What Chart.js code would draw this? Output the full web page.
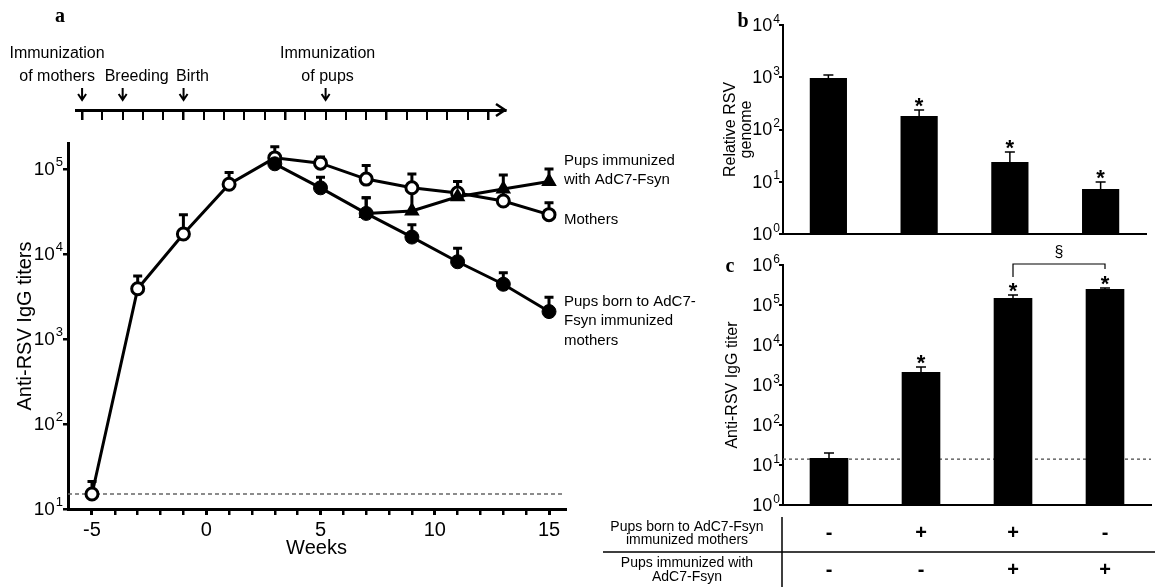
<!DOCTYPE html>
<html>
<head>
<meta charset="utf-8">
<script src="https://cdn.jsdelivr.net/npm/chart.js@4.4.1/dist/chart.umd.min.js"></script>
<style>
  body { margin: 0; background: #fff; width: 1155px; height: 587px; overflow: hidden; position: relative; }
  canvas { position: absolute; }
</style>
</head>
<body>
<canvas id="timeline" width="580" height="130" style="left:0px;top:0px"></canvas>
<canvas id="chartA" width="710" height="457" style="left:0px;top:130px"></canvas>
<canvas id="chartB" width="455" height="245" style="left:700px;top:0px"></canvas>
<canvas id="chartC" width="565" height="352" style="left:590px;top:235px"></canvas>
<script>
// ---- panel a: timeline of events ----
const timelineWeeks = [-5, -3, 0, 7];
const timelineLabels = [['Immunization', 'of mothers'], ['Breeding'], ['Birth'], ['Immunization', 'of pups']];
const weekTicks = [-5, -4, -3, -2, -1, 0, 1, 2, 3, 4, 5, 6, 7, 8, 9, 10, 11, 12, 13, 14, 15];

// ---- panel a: anti-RSV IgG titers over time (mean and upper error) ----
const weeksMothers = [-5, -3, -1, 1, 3, 5, 7, 9, 11, 13, 15];
const titerMothers = [15, 3900, 17200, 66000, 135000, 117000, 76000, 60000, 52000, 42000, 29000];
const titerMothersErr = [21, 5500, 29000, 91000, 182000, 138000, 110000, 87000, 71000, 56000, 40000];

const weeksPupsBorn = [3, 5, 7, 9, 11, 13, 15];
const titerPupsBorn = [115000, 60000, 30000, 15800, 8100, 4400, 2100];
const titerPupsBornErr = [140000, 80000, 46000, 22000, 11700, 6000, 3100];

const weeksPupsImm = [7, 9, 11, 13, 15];
const titerPupsImm = [30000, 32000, 47000, 58000, 71000];
const titerPupsImmErr = [46000, 60000, 71000, 85000, 100000];

const titerTicksA = [10, 100, 1000, 10000, 100000];
const detectionLimitA = 15;

// ---- panels b and c: four groups ----
const groupKeys = ['none', 'maternal', 'maternal + pup', 'pup'];
const rsvGenome = [970, 181, 24, 7.3];
const rsvGenomeErr = [1100, 235, 37, 9.9];
const genomeStars = [false, true, true, true];
const genomeTicks = [1, 10, 100, 1000, 10000];

const igGTiter = [15, 2100, 150000, 250000];
const igGTiterErr = [20, 2800, 178000, 266000];
const titerStars = [false, true, true, true];
const titerTicksC = [1, 10, 100, 1000, 10000, 100000, 1000000];
const detectionLimitC = 14;
const sigPair = [2, 3];

const bornToImmunized = ['-', '+', '+', '-'];
const pupsImmunized = ['-', '-', '+', '+'];
const tableRowLabels = [['Pups born to AdC7-Fsyn', 'immunized mothers'], ['Pups immunized with', 'AdC7-Fsyn']];

const FONT = '"Liberation Sans", Arial, Helvetica, sans-serif';
const SERIF = '"Liberation Serif", "Times New Roman", serif';

function baseOptions() {
    return {
        responsive: false,
        animation: false,
        devicePixelRatio: 1,
        plugins: { legend: { display: false }, tooltip: { enabled: false } }
    };
}

// 10 with a superscript exponent, right aligned against the y axis
function drawPowerLabels(chart, gap, big, small) {
    const scale = chart.scales.y;
    const ctx = chart.ctx;
    ctx.save();
    ctx.fillStyle = '#000';
    ctx.textBaseline = 'middle';
    ctx.textAlign = 'left';
    scale.ticks.forEach(t => {
        const exp = String(Math.round(Math.log10(t.value)));
        const y = scale.getPixelForValue(t.value);
        ctx.font = small + 'px ' + FONT;
        const ew = ctx.measureText(exp).width;
        ctx.font = big + 'px ' + FONT;
        const bw = ctx.measureText('10').width;
        const xr = scale.right - gap;
        ctx.fillText('10', xr - ew - bw, y + 1);
        ctx.font = small + 'px ' + FONT;
        ctx.fillText(exp, xr - ew + 1, y - big * 0.32);
    });
    ctx.restore();
}

function drawErrorBars(chart, capHalf, width) {
    const ctx = chart.ctx;
    const yScale = chart.scales.y;
    ctx.save();
    ctx.strokeStyle = '#000';
    ctx.lineWidth = width;
    chart.data.datasets.forEach((ds, i) => {
        if (!ds.errUp) return;
        chart.getDatasetMeta(i).data.forEach((el, j) => {
            const yTop = yScale.getPixelForValue(ds.errUp[j]);
            ctx.beginPath();
            ctx.moveTo(el.x, el.y);
            ctx.lineTo(el.x, yTop);
            ctx.moveTo(el.x - capHalf, yTop);
            ctx.lineTo(el.x + capHalf, yTop);
            ctx.stroke();
        });
    });
    ctx.restore();
}

function drawStars(chart, stars, errs) {
    const ctx = chart.ctx;
    const yScale = chart.scales.y;
    const meta = chart.getDatasetMeta(0);
    ctx.save();
    ctx.fillStyle = '#000';
    ctx.font = 'bold 22px ' + FONT;
    ctx.textAlign = 'center';
    ctx.textBaseline = 'alphabetic';
    stars.forEach((s, j) => {
        if (!s) return;
        ctx.fillText('*', meta.data[j].x, yScale.getPixelForValue(errs[j]) + 3);
    });
    ctx.restore();
}

function drawLimit(chart, value, dash) {
    const ctx = chart.ctx;
    const y = chart.scales.y.getPixelForValue(value);
    const area = chart.chartArea;
    ctx.save();
    ctx.strokeStyle = '#666';
    ctx.lineWidth = 1.5;
    ctx.setLineDash(dash);
    ctx.beginPath();
    ctx.moveTo(area.left, y);
    ctx.lineTo(area.right, y);
    ctx.stroke();
    ctx.restore();
}

function panelLetter(ctx, letter, x, y) {
    ctx.save();
    ctx.fillStyle = '#000';
    ctx.font = 'bold 20px ' + SERIF;
    ctx.textAlign = 'center';
    ctx.textBaseline = 'middle';
    ctx.fillText(letter, x, y);
    ctx.restore();
}

// ---------------- timeline ----------------
const timelineStyle = { dx: [-25, 14, 9, 2], lastLineY: 77, lineGap: 23, arrowTop: 88, arrowBottom: 100 };

new Chart(document.getElementById('timeline'), {
    type: 'scatter',
    data: { datasets: [{ data: [] }] },
    options: Object.assign(baseOptions(), {
        layout: { padding: { left: 76, right: 75, top: 0, bottom: 0 } },
        scales: {
            x: {
                type: 'linear', min: -5.3, max: 15.84,
                afterBuildTicks: s => { s.ticks = weekTicks.map(v => ({ value: v })); },
                afterFit: s => { s.height = 20; },
                ticks: { display: false },
                grid: {
                    display: true, drawOnChartArea: false, drawTicks: true, tickLength: 10, color: '#000',
                    lineWidth: c => (c.tick && c.tick.value % 5 === 0) ? 2.5 : 2
                },
                border: { display: true, color: '#000', width: 3 }
            },
            y: { display: false, min: 0, max: 1 }
        }
    }),
    plugins: [{
        id: 'timelineMarks',
        afterDraw(chart) {
            const ctx = chart.ctx;
            const xs = chart.scales.x;
            const area = chart.chartArea;
            ctx.save();
            ctx.strokeStyle = '#000';
            ctx.fillStyle = '#000';
            // arrow head at the end of the time axis
            ctx.lineWidth = 2.5;
            ctx.beginPath();
            ctx.moveTo(area.right - 9, area.bottom - 6);
            ctx.lineTo(area.right, area.bottom);
            ctx.lineTo(area.right - 9, area.bottom + 6);
            ctx.stroke();
            ctx.font = '16px ' + FONT;
            ctx.textAlign = 'center';
            ctx.textBaseline = 'middle';
            timelineWeeks.forEach((w, i) => {
                const x = xs.getPixelForValue(w);
                const lines = timelineLabels[i];
                lines.forEach((t, k) => {
                    const y = timelineStyle.lastLineY - (lines.length - 1 - k) * timelineStyle.lineGap;
                    ctx.fillText(t, x + timelineStyle.dx[i], y);
                });
                ctx.lineWidth = 2;
                ctx.beginPath();
                ctx.moveTo(x, timelineStyle.arrowTop);
                ctx.lineTo(x, timelineStyle.arrowBottom);
                ctx.moveTo(x - 4, timelineStyle.arrowBottom - 6);
                ctx.lineTo(x, timelineStyle.arrowBottom);
                ctx.lineTo(x + 4, timelineStyle.arrowBottom - 6);
                ctx.stroke();
            });
            ctx.restore();
            panelLetter(ctx, 'a', 60, 17);
        }
    }]
});

// ---------------- panel a: titers ----------------
const toPoints = (xs, ys) => xs.map((x, i) => ({ x: x, y: ys[i] }));
const endLabelStyle = { dx: 15, lineGap: 19.5, dy: [-21, -10, 5] };

new Chart(document.getElementById('chartA'), {
    type: 'line',
    data: {
        datasets: [
            {
                data: toPoints(weeksPupsImm, titerPupsImm), errUp: titerPupsImmErr,
                endLabel: ['Pups immunized', 'with AdC7-Fsyn'],
                borderColor: '#000', borderWidth: 3, pointStyle: 'triangle', pointRadius: 7,
                pointBackgroundColor: '#000', pointBorderColor: '#000', pointBorderWidth: 2
            },
            {
                data: toPoints(weeksPupsBorn, titerPupsBorn), errUp: titerPupsBornErr,
                endLabel: ['Pups born to AdC7-', 'Fsyn immunized', 'mothers'],
                borderColor: '#000', borderWidth: 3, pointStyle: 'circle', pointRadius: 7,
                pointBackgroundColor: '#000', pointBorderColor: '#000', pointBorderWidth: 1
            },
            {
                data: toPoints(weeksMothers, titerMothers), errUp: titerMothersErr,
                endLabel: ['Mothers'],
                borderColor: '#000', borderWidth: 3, pointStyle: 'circle', pointRadius: 6,
                pointBackgroundColor: '#fff', pointBorderColor: '#000', pointBorderWidth: 3
            }
        ]
    },
    options: Object.assign(baseOptions(), {
        layout: { padding: { left: 0, right: 145, top: 13, bottom: 0 } },
        scales: {
            x: {
                type: 'linear', min: -6.05, max: 15.7,
                afterBuildTicks: s => { s.ticks = weekTicks.map(v => ({ value: v })); },
                afterFit: s => { s.height = 78; },
                ticks: {
                    autoSkip: false, maxRotation: 0, padding: 3, color: '#000',
                    font: { size: 20, family: FONT },
                    callback: v => (v % 5 === 0 ? String(v) : '')
                },
                grid: {
                    display: true, drawOnChartArea: false, drawTicks: true, tickLength: 6, color: '#000',
                    lineWidth: c => (c.tick && c.tick.value % 5 === 0) ? 3 : 2.5
                },
                border: { display: true, color: '#000', width: 3 },
                title: { display: true, text: 'Weeks', color: '#000', font: { size: 20, family: FONT }, padding: { top: 0, bottom: 27 } }
            },
            y: {
                type: 'logarithmic', min: 10, max: 202000,
                afterBuildTicks: s => { s.ticks = titerTicksA.map(v => ({ value: v })); },
                afterFit: s => { s.width = 68; },
                ticks: { display: false },
                grid: { display: true, drawOnChartArea: false, drawTicks: true, tickLength: 5, color: '#000', lineWidth: 2.5 },
                border: { display: true, color: '#000', width: 3 },
                title: { display: true, text: 'Anti-RSV IgG titers', color: '#000', font: { size: 20, family: FONT }, padding: { top: 13, bottom: 0 } }
            }
        }
    }),
    plugins: [{
        id: 'panelA',
        beforeDatasetsDraw(chart) {
            drawLimit(chart, detectionLimitA, [4, 3]);
            drawErrorBars(chart, 4.5, 3);
        },
        afterDraw(chart) {
            drawPowerLabels(chart, 6, 19, 13);
            const ctx = chart.ctx;
            ctx.save();
            ctx.fillStyle = '#000';
            ctx.font = '15px ' + FONT;
            ctx.textAlign = 'left';
            ctx.textBaseline = 'middle';
            chart.data.datasets.forEach((ds, i) => {
                const pts = chart.getDatasetMeta(i).data;
                const last = pts[pts.length - 1];
                ds.endLabel.forEach((t, k) => {
                    ctx.fillText(t, last.x + endLabelStyle.dx, last.y + endLabelStyle.dy[i] + k * endLabelStyle.lineGap);
                });
            });
            ctx.restore();
        }
    }]
});

// ---------------- panel b: viral genome ----------------
new Chart(document.getElementById('chartB'), {
    type: 'bar',
    data: {
        labels: groupKeys,
        datasets: [{ data: rsvGenome, errUp: rsvGenomeErr, backgroundColor: '#000', borderWidth: 0, barPercentage: 0.41, categoryPercentage: 1 }]
    },
    options: Object.assign(baseOptions(), {
        layout: { padding: { left: 0, right: 9, top: 25, bottom: 11 } },
        scales: {
            x: {
                afterFit: s => { s.height = 0; },
                ticks: { display: false },
                grid: { display: false },
                border: { display: true, color: '#000', width: 2 }
            },
            y: {
                type: 'logarithmic', min: 1, max: 10000,
                afterBuildTicks: s => { s.ticks = genomeTicks.map(v => ({ value: v })); },
                afterFit: s => { s.width = 83; },
                ticks: { display: false },
                grid: { display: true, drawOnChartArea: false, drawTicks: true, tickLength: 4, color: '#000', lineWidth: 2 },
                border: { display: true, color: '#000', width: 2 },
                title: {
                    display: true, text: ['Relative RSV', 'genome'], color: '#000',
                    font: { size: 16, family: FONT, lineHeight: 1.0 }, padding: { top: 23, bottom: 0 }
                }
            }
        }
    }),
    plugins: [{
        id: 'panelB',
        afterDatasetsDraw(chart) {
            drawErrorBars(chart, 5, 1.5);
            drawStars(chart, genomeStars, rsvGenomeErr);
        },
        afterDraw(chart) {
            drawPowerLabels(chart, 4, 18, 12);
            panelLetter(chart.ctx, 'b', 43, 22);
        }
    }]
});

// ---------------- panel c: antibody titer + group table ----------------
const tableStyle = { labelX: 97, rowY: [298, 335], labelLines: [[292, 305], [328, 342]], vLineX: 192, vLineTop: 282, hLineY: 317, hLineLeft: 13 };

new Chart(document.getElementById('chartC'), {
    type: 'bar',
    data: {
        labels: groupKeys,
        datasets: [{ data: igGTiter, errUp: igGTiterErr, backgroundColor: '#000', borderWidth: 0, barPercentage: 0.42, categoryPercentage: 1 }]
    },
    options: Object.assign(baseOptions(), {
        layout: { padding: { left: 120, right: 4, top: 30, bottom: 82 } },
        scales: {
            x: {
                afterFit: s => { s.height = 0; },
                ticks: { display: false },
                grid: { display: false },
                border: { display: true, color: '#000', width: 2 }
            },
            y: {
                type: 'logarithmic', min: 1, max: 1000000,
                afterBuildTicks: s => { s.ticks = titerTicksC.map(v => ({ value: v })); },
                afterFit: s => { s.width = 73; },
                ticks: { display: false },
                grid: { display: true, drawOnChartArea: false, drawTicks: true, tickLength: 4, color: '#000', lineWidth: 2 },
                border: { display: true, color: '#000', width: 2 },
                title: { display: true, text: 'Anti-RSV IgG titer', color: '#000', font: { size: 16, family: FONT }, padding: { top: 13.4, bottom: 0 } }
            }
        }
    }),
    plugins: [{
        id: 'panelC',
        beforeDatasetsDraw(chart) {
            drawLimit(chart, detectionLimitC, [3, 3]);
        },
        afterDatasetsDraw(chart) {
            drawErrorBars(chart, 5, 1.5);
            drawStars(chart, titerStars, igGTiterErr);
        },
        afterDraw(chart) {
            drawPowerLabels(chart, 4, 18, 12);
            const ctx = chart.ctx;
            const meta = chart.getDatasetMeta(0);
            const yScale = chart.scales.y;
            ctx.save();
            ctx.strokeStyle = '#000';
            ctx.fillStyle = '#000';

            // significance bracket between two groups
            const x1 = meta.data[sigPair[0]].x;
            const x2 = meta.data[sigPair[1]].x;
            const yb = yScale.getPixelForValue(1000000) - 1;
            ctx.lineWidth = 1.2;
            ctx.beginPath();
            ctx.moveTo(x1, yb + 13);
            ctx.lineTo(x1, yb);
            ctx.lineTo(x2, yb);
            ctx.lineTo(x2, yb + 5);
            ctx.stroke();
            ctx.font = '16px ' + FONT;
            ctx.textAlign = 'center';
            ctx.textBaseline = 'middle';
            ctx.fillText('\u00a7', (x1 + x2) / 2, yb - 11);

            // group table under the bars
            ctx.lineWidth = 1.5;
            ctx.beginPath();
            ctx.moveTo(tableStyle.vLineX, tableStyle.vLineTop);
            ctx.lineTo(tableStyle.vLineX, chart.height);
            ctx.moveTo(tableStyle.hLineLeft, tableStyle.hLineY);
            ctx.lineTo(chart.width, tableStyle.hLineY);
            ctx.stroke();
            ctx.font = '14px ' + FONT;
            tableRowLabels.forEach((lines, r) => {
                lines.forEach((t, k) => ctx.fillText(t, tableStyle.labelX, tableStyle.labelLines[r][k]));
            });
            ctx.font = 'bold 20px ' + FONT;
            [bornToImmunized, pupsImmunized].forEach((row, r) => {
                row.forEach((s, j) => ctx.fillText(s, meta.data[j].x, tableStyle.rowY[r]));
            });
            ctx.restore();
            panelLetter(ctx, 'c', 140, 32);
        }
    }]
});
</script>
</body>
</html>
